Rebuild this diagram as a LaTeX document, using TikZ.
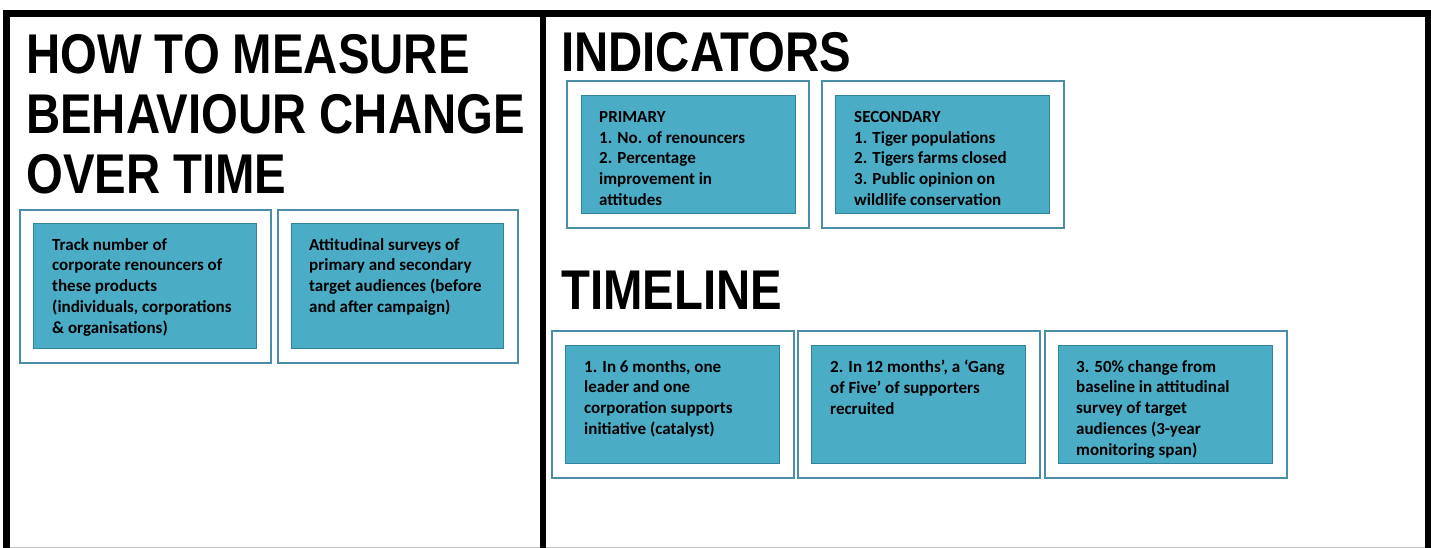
\documentclass[tikz,border=0pt]{standalone}
\usepackage{fontspec}
\setmainfont{Carlito}
\newfontfamily\headfont[FakeStretch=0.845]{Liberation Sans}
\usetikzlibrary{positioning}

\definecolor{cardfill}{HTML}{4BACC6}
\definecolor{cardedge}{HTML}{31849B}
\definecolor{boxedge}{HTML}{4A8DA8}

\tikzset{
  heading/.style={anchor=north west, inner sep=0pt, align=left,
    font=\headfont\bfseries\fontsize{56}{60}\selectfont},
  outerbox/.style={draw=boxedge, line width=2pt, fill=white, anchor=north west, inner sep=0pt},
  innerbox/.style={draw=cardedge, line width=1pt, fill=cardfill, anchor=north west, inner sep=0pt},
  cardtext/.style={anchor=north west, inner sep=0pt, align=left,
    font=\bfseries\fontsize{17}{20.8}\selectfont},
}

\begin{document}
\begin{tikzpicture}[x=1pt,y=-1pt]
  \useasboundingbox (0,0) rectangle (1431,548);

  % frame
  \draw[gray!50, line width=1pt] (6,547) -- (1428,547);
  \draw[line width=7pt] (6,548) |- (1428,13.5) -- (1428,548);
  \draw[line width=6pt] (543,13.5) -- (543,548);

  % headings
  \node[heading] (measure) at (26,34) {HOW TO MEASURE\\BEHAVIOUR CHANGE\\OVER TIME};
  \node[heading] (indicators) at (561,32) {INDICATORS};
  \node[heading] (timeline) at (561,271) {TIMELINE};

  % how to measure
  \node[outerbox, minimum width=251, minimum height=153] (trackout) at (19,209) {};
  \node[innerbox, minimum width=223, minimum height=125] (track) at (33,223) {};
  \node[cardtext] (tracktxt) at ([shift={(19,15)}]track.north west)
    {Track number of\\corporate renouncers of\\these products\\(individuals, corporations\\\& organisations)};

  \node[outerbox, minimum width=240, minimum height=153] (surveyout) at (277,209) {};
  \node[innerbox, minimum width=212, minimum height=125] (survey) at (291,223) {};
  \node[cardtext] (surveytxt) at ([shift={(18,15)}]survey.north west)
    {Attitudinal surveys of\\primary and secondary\\target audiences (before\\and after campaign)};

  % indicators
  \node[outerbox, minimum width=242, minimum height=147] (primout) at (566,80) {};
  \node[innerbox, minimum width=214, minimum height=118] (prim) at (581,95) {};
  \node[cardtext] (primtxt) at ([shift={(18,16)}]prim.north west)
    {PRIMARY\\1. No. of renouncers\\2. Percentage\\improvement in\\attitudes};

  \node[outerbox, minimum width=242, minimum height=147] (secout) at (821,80) {};
  \node[innerbox, minimum width=214, minimum height=118] (sec) at (835,95) {};
  \node[cardtext] (sectxt) at ([shift={(19,16)}]sec.north west)
    {SECONDARY\\1. Tiger populations\\2. Tigers farms closed\\3. Public opinion on\\wildlife conservation};

  % timeline
  \node[outerbox, minimum width=242, minimum height=147] (sixout) at (551,330) {};
  \node[innerbox, minimum width=214, minimum height=118] (six) at (565,345) {};
  \node[cardtext] (sixtxt) at ([shift={(19,15)}]six.north west)
    {1. In 6 months, one\\leader and one\\corporation supports\\initiative (catalyst)};

  \node[outerbox, minimum width=242, minimum height=147] (twelveout) at (797,330) {};
  \node[innerbox, minimum width=214, minimum height=118] (twelve) at (811,345) {};
  \node[cardtext] (twelvetxt) at ([shift={(19,15)}]twelve.north west)
    {2. In 12 months', a `Gang\\of Five' of supporters\\recruited};

  \node[outerbox, minimum width=242, minimum height=147] (spanout) at (1044,330) {};
  \node[innerbox, minimum width=214, minimum height=118] (span) at (1058,345) {};
  \node[cardtext] (spantxt) at ([shift={(18,15)}]span.north west)
    {3. 50\% change from\\baseline in attitudinal\\survey of target\\audiences (3-year\\monitoring span)};
\end{tikzpicture}
\end{document}
